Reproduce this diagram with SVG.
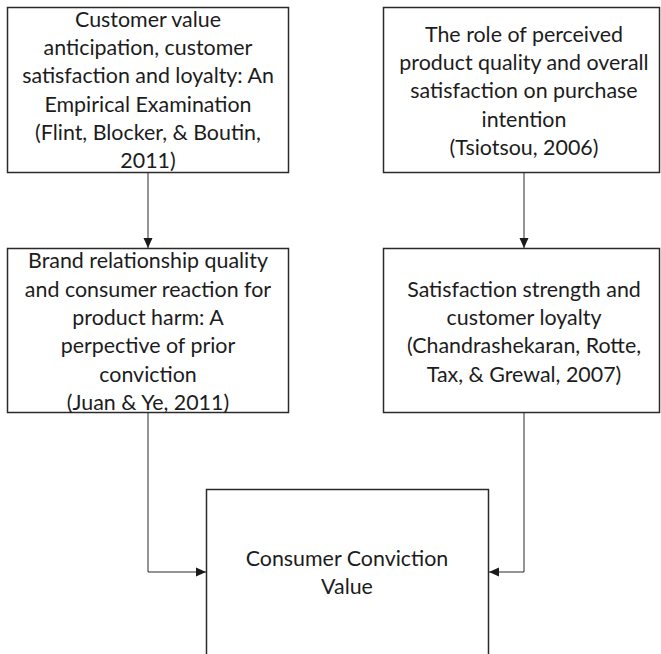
<svg xmlns="http://www.w3.org/2000/svg" width="661" height="654" viewBox="0 0 661 654">
<defs>
<style>
.box{fill:#fff;stroke:#2a2a2a;stroke-width:1.5}
.t{font-family:Lato,"Open Sans","DejaVu Sans",sans-serif;font-size:21.4px;fill:#1c1c1c;text-anchor:middle}
.c{fill:none;stroke:#2a2a2a;stroke-width:1}
</style>
<marker id="ah" viewBox="0 0 10 10" refX="10" refY="5" markerWidth="10" markerHeight="10" markerUnits="userSpaceOnUse" orient="auto">
<path d="M0,0.5 L10,5 L0,9.5 z" fill="#1a1a1a"/>
</marker>
</defs>
<rect width="661" height="654" fill="#fff"/>
<g id="connectors">
<line class="c" x1="148" y1="173" x2="148" y2="248" marker-end="url(#ah)"/>
<line class="c" x1="524" y1="173" x2="524" y2="248" marker-end="url(#ah)"/>
<polyline class="c" points="148,413 148,572 206,572" marker-end="url(#ah)"/>
<polyline class="c" points="524,413 524,572 489,572" marker-end="url(#ah)"/>
</g>
<g id="node1">
<rect class="box" x="7.5" y="7.5" width="281" height="165"/>
<text class="t"><tspan x="148" y="27">Customer value</tspan><tspan x="148" y="55">anticipation, customer</tspan><tspan x="148" y="83">satisfaction and loyalty: An</tspan><tspan x="148" y="112">Empirical Examination</tspan><tspan x="148" y="140">(Flint, Blocker, &amp; Boutin,</tspan><tspan x="148" y="168">2011)</tspan></text>
</g>
<g id="node2">
<rect class="box" x="383.5" y="7.5" width="276" height="165"/>
<text class="t"><tspan x="524" y="42">The role of perceived</tspan><tspan x="524" y="70">product quality and overall</tspan><tspan x="524" y="98">satisfaction on purchase</tspan><tspan x="524" y="127">intention</tspan><tspan x="524" y="155">(Tsiotsou, 2006)</tspan></text>
</g>
<g id="node3">
<rect class="box" x="7.5" y="248.5" width="281" height="164"/>
<text class="t"><tspan x="148" y="268">Brand relationship quality</tspan><tspan x="148" y="297">and consumer reaction for</tspan><tspan x="148" y="325">product harm: A</tspan><tspan x="148" y="353">perpective of prior</tspan><tspan x="148" y="382">conviction</tspan><tspan x="148" y="410">(Juan &amp; Ye, 2011)</tspan></text>
</g>
<g id="node4">
<rect class="box" x="383.5" y="248.5" width="276" height="164"/>
<text class="t"><tspan x="524" y="297">Satisfaction strength and</tspan><tspan x="524" y="325">customer loyalty</tspan><tspan x="524" y="353">(Chandrashekaran, Rotte,</tspan><tspan x="524" y="382">Tax, &amp; Grewal, 2007)</tspan></text>
</g>
<g id="node5">
<path class="box" d="M206.5,660 V489.5 H488.5 V660"/>
<text class="t"><tspan x="347" y="566">Consumer Conviction</tspan><tspan x="347" y="594">Value</tspan></text>
</g>
</svg>
